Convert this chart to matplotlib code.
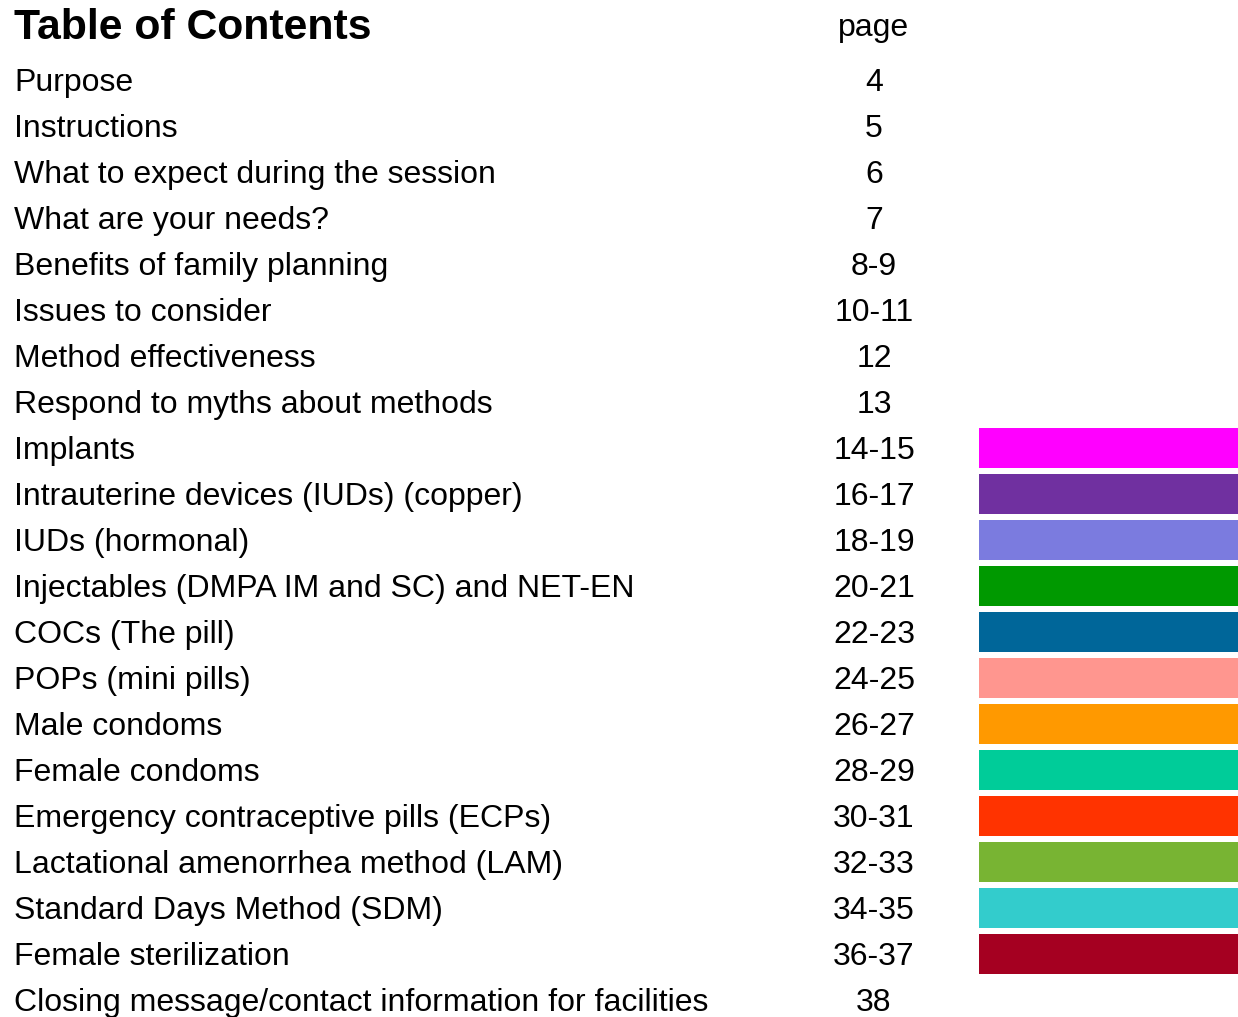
import matplotlib.pyplot as plt

entries = [
    "Purpose",
    "Instructions",
    "What to expect during the session",
    "What are your needs?",
    "Benefits of family planning",
    "Issues to consider",
    "Method effectiveness",
    "Respond to myths about methods",
    "Implants",
    "Intrauterine devices (IUDs) (copper)",
    "IUDs (hormonal)",
    "Injectables (DMPA IM and SC) and NET-EN",
    "COCs (The pill)",
    "POPs (mini pills)",
    "Male condoms",
    "Female condoms",
    "Emergency contraceptive pills (ECPs)",
    "Lactational amenorrhea method (LAM)",
    "Standard Days Method (SDM)",
    "Female sterilization",
    "Closing message/contact information for facilities",
]
pages = ["4", "5", "6", "7", "8-9", "10-11", "12", "13", "14-15", "16-17",
         "18-19", "20-21", "22-23", "24-25", "26-27", "28-29", "30-31",
         "32-33", "34-35", "36-37", "38"]
swatch_colors = [None] * 8 + [
    "#FF00FF", "#7030A0", "#7B7BDF", "#009900", "#006699", "#FF968F",
    "#FF9900", "#00CC99", "#FF3300", "#78B433", "#33CCCC", "#A50021",
] + [None]

plt.rcParams['font.family'] = ['Liberation Sans', 'DejaVu Sans']

fig = plt.figure(figsize=(12.38, 10.17), dpi=100)
ax = fig.add_axes([0, 0, 1, 1])
ax.set_xlim(0, 1238)
# row i sits at pixel 80 + 46*i
ax.set_ylim((1017 - 80) / 46, -80 / 46)
ax.axis('off')

dy = 3 / 46  # small nudge so the text sits like the original
ax.text(14, -1.20 + dy, "Table of Contents", fontsize=30.8, fontweight='bold',
        ha='left', va='center')
ax.text(874, -1.20 + dy, "page", fontsize=23, ha='center', va='center')

for i, (name, pg, col) in enumerate(zip(entries, pages, swatch_colors)):
    ax.text(14, i + dy, name, fontsize=23, ha='left', va='center')
    ax.text(874, i + dy, pg, fontsize=23, ha='center', va='center')
    if col is not None:
        ax.barh(i, 1238 - 979, left=979, height=40 / 46, color=col,
                edgecolor='none')

fig.savefig('out.png', dpi=100)
